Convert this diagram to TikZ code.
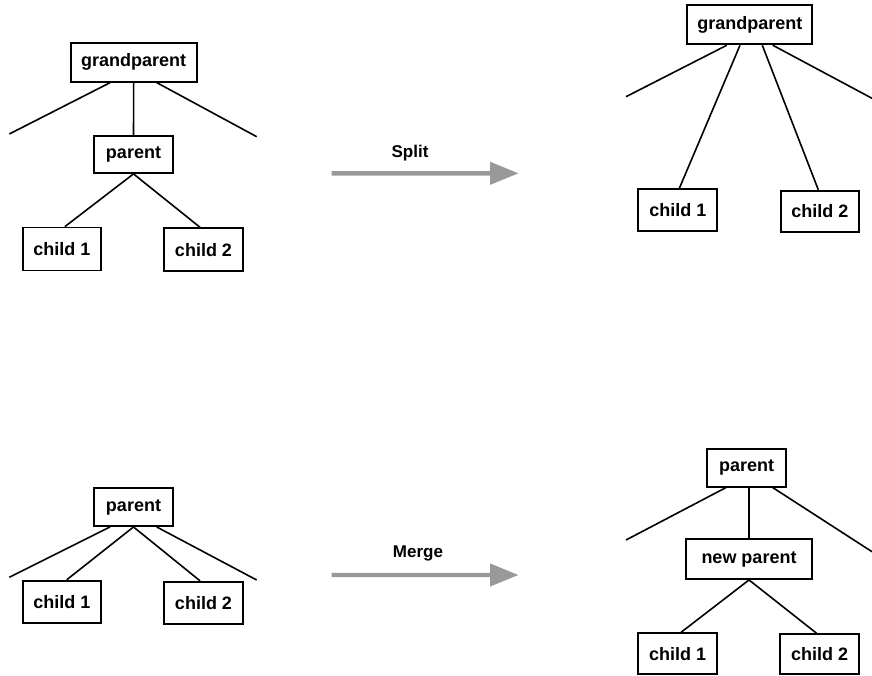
\documentclass[tikz,border=0pt]{standalone}
\usepackage{fontspec}
\setmainfont{Liberation Sans}
\begin{document}
\begin{tikzpicture}[x=1pt,y=-1pt,
  box/.style={draw=black,line width=1.8pt,rectangle,inner sep=0pt,
    font=\fontsize{18}{21}\selectfont\bfseries,text=black},
  edge/.style={draw=black,line width=1.6pt},
  bigarrow/.style={fill=black!40,draw=none},
  lbl/.style={font=\fontsize{17}{20}\selectfont\bfseries,inner sep=0pt}]
\useasboundingbox (0,0) rectangle (872,675);

% ---------- top left ----------
\node[box,minimum width=126pt,minimum height=39pt] (gp1) at (133.7,62.2) {grandparent};
\node[box,minimum width=78.4pt,minimum height=37pt] (p1) at (133.5,154.5) {parent};
\node[box,minimum width=78.3pt,minimum height=43pt] (c1a) at (61.9,249) {child 1};
\node[box,minimum width=78.4pt,minimum height=43pt] (c1b) at (203.5,249.7) {child 2};
\coordinate (l1) at (9.3,134);
\coordinate (r1) at (256.7,136.7);
\draw[edge] ([xshift=-23.5pt]gp1.south) -- (l1);
\draw[edge] ([xshift=23pt]gp1.south) -- (r1);
\draw[edge] (gp1.south) -- (p1.north);
\draw[edge] (p1.south) -- ([xshift=3pt]c1a.north);
\draw[edge] (p1.south) -- ([xshift=-3.5pt]c1b.north);

% ---------- top right ----------
\node[box,minimum width=125pt,minimum height=39.3pt] (gp2) at (749.8,24.7) {grandparent};
\node[box,minimum width=79pt,minimum height=41.4pt] (c2a) at (677.8,210) {child 1};
\node[box,minimum width=78.3pt,minimum height=41pt] (c2b) at (819.8,211.2) {child 2};
\coordinate (l2) at (626,96.7);
\coordinate (r2) at (872,98.3);
\draw[edge] ([xshift=-23pt]gp2.south) -- (l2);
\draw[edge] ([xshift=-9.8pt]gp2.south) -- ([xshift=1.5pt]c2a.north);
\draw[edge] ([xshift=12.5pt]gp2.south) -- ([xshift=-1.5pt]c2b.north);
\draw[edge] ([xshift=23pt]gp2.south) -- (r2);

% ---------- split arrow ----------
\coordinate (s0) at (331.7,173.3);
\coordinate (s1) at (518.3,173.3);
\fill[bigarrow] (s0) ++(0,-2.2) -- ++(158.3,0) -- ++(0,-9.4) -- (s1)
  -- ++(-28.3,11.6) -- ++(0,-9.4) -- ++(-158.3,0) -- cycle;
\node[lbl] (split) at (410,153) {Split};

% ---------- bottom left ----------
\node[box,minimum width=78.4pt,minimum height=37.7pt] (p3) at (133.5,507.2) {parent};
\node[box,minimum width=78.3pt,minimum height=42.6pt] (c3a) at (61.9,602) {child 1};
\node[box,minimum width=78.4pt,minimum height=42.6pt] (c3b) at (203.5,603) {child 2};
\coordinate (l3) at (9.3,577.3);
\coordinate (r3) at (256.7,580);
\draw[edge] ([xshift=-23.5pt]p3.south) -- (l3);
\draw[edge] ([xshift=23.2pt]p3.south) -- (r3);
\draw[edge] (p3.south) -- ([xshift=4.8pt]c3a.north);
\draw[edge] (p3.south) -- ([xshift=-3.5pt]c3b.north);

% ---------- merge arrow ----------
\coordinate (m0) at (331.7,575);
\coordinate (m1) at (518.3,575);
\fill[bigarrow] (m0) ++(0,-2.2) -- ++(158.3,0) -- ++(0,-9.4) -- (m1)
  -- ++(-28.3,11.6) -- ++(0,-9.4) -- ++(-158.3,0) -- cycle;
\node[lbl] (merge) at (418,553) {Merge};

% ---------- bottom right ----------
\node[box,minimum width=78.7pt,minimum height=37.7pt] (p4) at (746.7,467.8) {parent};
\node[box,minimum width=126.6pt,minimum height=39.7pt] (np) at (749,559.2) {new parent};
\node[box,minimum width=78.4pt,minimum height=40.7pt] (c4a) at (677.5,653.6) {child 1};
\node[box,minimum width=79pt,minimum height=39.7pt] (c4b) at (819.5,654.1) {child 2};
\coordinate (l4) at (626,540);
\coordinate (r4) at (872,551.7);
\draw[edge] ([xshift=-20.7pt]p4.south) -- (l4);
\draw[edge] ([xshift=26pt]p4.south) -- (r4);
\draw[edge] (np.north) -- (np.north |- p4.south);
\draw[edge] (np.south) -- ([xshift=3.5pt]c4a.north);
\draw[edge] (np.south) -- ([xshift=-2.8pt]c4b.north);
\end{tikzpicture}
\end{document}
